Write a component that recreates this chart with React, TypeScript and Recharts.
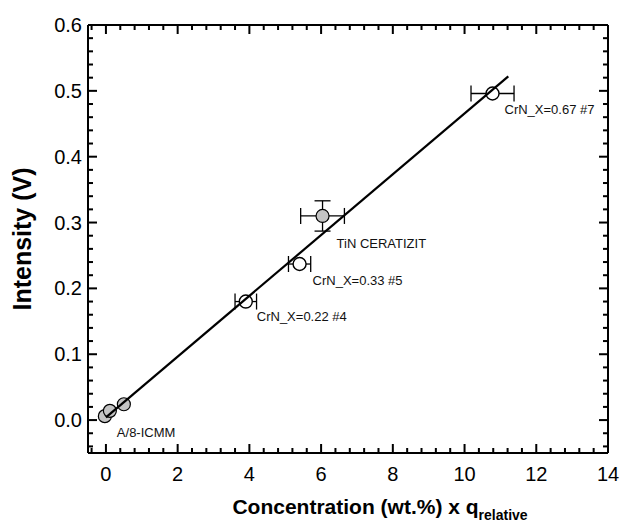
import React from 'react';
import {
  ScatterChart,
  Scatter,
  XAxis,
  YAxis,
  ErrorBar,
  LabelList,
  ReferenceLine
} from 'recharts';

// values
const crnX = [3.9, 5.4, 10.78];
const crnY = [0.18, 0.237, 0.496];
const crnXErr = [0.3, 0.31, 0.6];
const crnNames = ['CrN_X=0.22 #4', 'CrN_X=0.33 #5', 'CrN_X=0.67 #7'];

const tinX = [6.04];
const tinY = [0.31];
const tinXErr = [0.61];
const tinYErr = [0.023];
const tinNames = ['TiN CERATIZIT'];

const refX = [-0.03, 0.11, 0.5];
const refY = [0.006, 0.014, 0.024];
const refNames = ['A/8-ICMM', '', ''];

const fitX = [0, 11.22];
const fitY = [0.004, 0.522];

const xMajor = [0, 2, 4, 6, 8, 10, 12, 14];
const yMajor = [0, 0.1, 0.2, 0.3, 0.4, 0.5, 0.6];
const xDomain: [number, number] = [-0.5, 14];
const yDomain: [number, number] = [-0.05, 0.6];

// minor ticks: 5 steps per major interval
const xTicks: number[] = [];
for (let i = -1; i <= 35; i++) xTicks.push(+(i * 0.4).toFixed(2));
const yTicks: number[] = [];
for (let i = -2; i <= 30; i++) yTicks.push(+(i * 0.02).toFixed(3));

// label offsets in px (style, not data)
const labelOffset: Record<string, [number, number]> = {
  'CrN_X=0.22 #4': [11, 19],
  'CrN_X=0.33 #5': [13, 21],
  'CrN_X=0.67 #7': [12, 21],
  'TiN CERATIZIT': [14, 32],
  'A/8-ICMM': [12, 21]
};

const isMajor = (v: number, list: number[]) => list.some((m) => Math.abs(m - v) < 1e-6);

const crnData = crnX.map((x, i) => ({ x, y: crnY[i], ex: crnXErr[i], name: crnNames[i] }));
const tinData = tinX.map((x, i) => ({ x, y: tinY[i], ex: tinXErr[i], ey: tinYErr[i], name: tinNames[i] }));
const refData = refX.map((x, i) => ({ x, y: refY[i], name: refNames[i] }));
const fitData = fitX.map((x, i) => ({ x, y: fitY[i] }));

// inward frame ticks on all four sides, placed through the chart scales
const innerX = xTicks.filter((t) => t > xDomain[0] && t < xDomain[1]);
const innerY = yTicks.filter((t) => t > yDomain[0] && t < yDomain[1]);
const frameTicks = [
  ...innerX.map((t) => ({ x: t, y: yDomain[0], side: 'b', major: isMajor(t, xMajor) })),
  ...innerX.map((t) => ({ x: t, y: yDomain[1], side: 't', major: isMajor(t, xMajor) })),
  ...innerY.map((t) => ({ x: xDomain[0], y: t, side: 'l', major: isMajor(t, yMajor) })),
  ...innerY.map((t) => ({ x: xDomain[1], y: t, side: 'r', major: isMajor(t, yMajor) }))
];

const FONT = '"Liberation Sans", Arial, Helvetica, sans-serif';

const FrameTick = (p: any) => {
  const { cx, cy } = p;
  const d = p.payload || p;
  const len = d.major ? 9 : 5;
  let w = 2;
  let h = 2;
  let x = cx - 1;
  let y = cy - 1;
  if (d.side === 'b') { h = len; y = cy - len; }
  if (d.side === 't') { h = len; y = cy; }
  if (d.side === 'l') { w = len; x = cx; }
  if (d.side === 'r') { w = len; x = cx - len; }
  return <rect x={x} y={y} width={w} height={h} fill="#000" stroke="none" />;
};

const BottomTick = (p: any) => {
  const v = p.payload.value;
  if (!isMajor(v, xMajor)) return <g />;
  return (
    <text x={p.x} y={p.y + 28} textAnchor="middle" fontSize={20} fontFamily={FONT} fill="#000">
      {v}
    </text>
  );
};

const LeftTick = (p: any) => {
  const v = p.payload.value;
  if (!isMajor(v, yMajor)) return <g />;
  return (
    <text x={p.x - 6} y={p.y + 7} textAnchor="end" fontSize={20} fontFamily={FONT} fill="#000">
      {v.toFixed(1)}
    </text>
  );
};

const OpenDot = (p: any) => (
  <circle cx={p.cx} cy={p.cy} r={6.5} fill="#fff" stroke="#000" strokeWidth={1.4} />
);
const GreyDot = (p: any) => (
  <circle cx={p.cx} cy={p.cy} r={6.5} fill="#c4c4c4" stroke="#000" strokeWidth={1.2} />
);
const NoDot = () => <g />;

const PointLabel = (p: any) => {
  const name = p.value;
  if (!name) return null;
  const [dx, dy] = labelOffset[name] || [10, 20];
  return (
    <text x={p.x + p.width / 2 + dx} y={p.y + p.height / 2 + dy} fontSize={13} fontFamily={FONT} fill="#111">
      {name}
    </text>
  );
};

const XTitle = (p: any) => {
  const vb = p.viewBox;
  return (
    <text
      x={vb.x + vb.width / 2 + 32}
      y={vb.y + 61}
      textAnchor="middle"
      fontFamily={FONT}
      fontWeight="bold"
      fontSize={21}
      fill="#000"
    >
      Concentration (wt.%) x q
      <tspan fontSize={14} dy={6}>relative</tspan>
    </text>
  );
};

const YTitle = (p: any) => {
  const vb = p.viewBox;
  const cx = 22;
  const cy = vb.y + vb.height / 2;
  return (
    <text
      x={cx}
      y={cy}
      transform={`rotate(-90 ${cx} ${cy})`}
      textAnchor="middle"
      dominantBaseline="central"
      fontFamily={FONT}
      fontWeight="bold"
      fontSize={25}
      fill="#000"
    >
      Intensity (V)
    </text>
  );
};

export default function App() {
  return (
    <div style={{ position: 'absolute', left: 0, top: 0, background: '#fff' }}>
      <ScatterChart width={621} height={530} margin={{ top: 25, right: 13, bottom: 0, left: 0 }}>
        <XAxis
          type="number"
          dataKey="x"
          domain={xDomain}
          ticks={xTicks}
          interval={0}
          height={77}
          tickSize={0}
          tickMargin={0}
          tickLine={false}
          tick={BottomTick}
          axisLine={{ stroke: '#000', strokeWidth: 2 }}
          label={{ value: 'x', content: XTitle }}
        />
        <YAxis
          type="number"
          dataKey="y"
          domain={yDomain}
          ticks={yTicks}
          interval={0}
          width={88}
          tickSize={0}
          tickMargin={0}
          tickLine={false}
          tick={LeftTick}
          axisLine={{ stroke: '#000', strokeWidth: 2 }}
          label={{ value: 'y', content: YTitle }}
        />
        {/* frame: top and right borders */}
        <ReferenceLine y={yDomain[1]} stroke="#000" strokeWidth={2} />
        <ReferenceLine x={xDomain[1]} stroke="#000" strokeWidth={2} />
        <Scatter data={frameTicks} shape={FrameTick} isAnimationActive={false} />
        <Scatter data={refData} shape={GreyDot} isAnimationActive={false}>
          <LabelList dataKey="name" content={PointLabel} />
        </Scatter>
        <Scatter data={crnData} shape={OpenDot} isAnimationActive={false}>
          <ErrorBar dataKey="ex" direction="x" width={8} stroke="#000" strokeWidth={1.3} />
          <LabelList dataKey="name" content={PointLabel} />
        </Scatter>
        <Scatter data={tinData} shape={GreyDot} isAnimationActive={false}>
          <ErrorBar dataKey="ex" direction="x" width={8} stroke="#000" strokeWidth={1.3} />
          <ErrorBar dataKey="ey" direction="y" width={8} stroke="#000" strokeWidth={1.3} />
          <LabelList dataKey="name" content={PointLabel} />
        </Scatter>
        <Scatter
          data={fitData}
          line={{ stroke: '#000', strokeWidth: 2.2 }}
          shape={NoDot}
          isAnimationActive={false}
        />
      </ScatterChart>
    </div>
  );
}
